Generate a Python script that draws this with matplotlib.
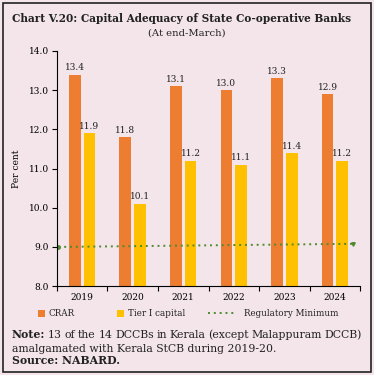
import numpy as np
import matplotlib.pyplot as plt
from matplotlib.patches import Rectangle

# datos
years = ["2019", "2020", "2021", "2022", "2023", "2024"]
crar = [13.4, 11.8, 13.1, 13.0, 13.3, 12.9]
tier1 = [11.9, 10.1, 11.2, 11.1, 11.4, 11.2]
reg_min = [9.0, 9.08]  # valores al inicio y al final del eje

c_crar = "#ED7D31"
c_tier = "#FFC000"
c_reg = "#4E8A2E"
bg = "#F3E5EA"
tc = "#222222"

plt.rcParams["font.family"] = ["DejaVu Serif"]

W, H = 374, 375
fig = plt.figure(figsize=(3.74, 3.75), dpi=100, facecolor=bg)
fig.patches.append(Rectangle((0.008, 0.008), 0.984, 0.984, transform=fig.transFigure,
                             fill=False, edgecolor=tc, lw=1.2))

ax = fig.add_axes([0.152, 0.237, 0.811, 0.627])
ax.set_facecolor(bg)

x = np.arange(len(years))
w = 0.235
off = 0.145
b1 = ax.bar(x - off, crar, w, color=c_crar, label="CRAR")
b2 = ax.bar(x + off, tier1, w, color=c_tier, label="Tier I capital")
for i in range(len(years)):
    ax.text(x[i] - off, crar[i] + 0.06, f"{crar[i]:.1f}", ha="center", va="bottom", fontsize=6.5, color=tc)
    ax.text(x[i] + off, tier1[i] + 0.06, f"{tier1[i]:.1f}", ha="center", va="bottom", fontsize=6.5, color=tc)

l1, = ax.plot([-0.47, 5.35], reg_min, linestyle=(0, (1, 2.0)), color=c_reg, lw=1.4,
              label="Regulatory Minimum")
ax.plot([-0.47], [reg_min[0]], "o", color=c_reg, ms=2.5)
ax.plot([5.35], [reg_min[1]], "v", color=c_reg, ms=2.5)

ax.set_xlim(-0.5, 5.5)
ax.set_ylim(8.0, 14.0)
ax.set_yticks(np.arange(8, 14.01, 1.0))
ax.set_yticklabels([f"{v:.1f}" for v in np.arange(8, 14.01, 1.0)], fontsize=6.5)
ax.set_xticks(x)
ax.set_xticklabels(years, fontsize=6.5)
ax.set_xticks(np.arange(-0.5, 5.6, 1.0), minor=True)
ax.tick_params(axis="x", which="major", length=0, pad=5)
ax.tick_params(axis="x", which="minor", length=3.5, width=0.8)
ax.tick_params(axis="y", length=3.5, width=0.8, pad=2)
ax.spines["top"].set_visible(False)
ax.spines["right"].set_visible(False)
ax.spines["left"].set_linewidth(0.8)
ax.spines["bottom"].set_linewidth(0.8)
ax.set_ylabel("Per cent", fontsize=6.5, labelpad=6)

# leyenda: tres piezas separadas
ly = 1 - 314 / H
items = [(b1, "CRAR", 38, 0.8, 0.8), (b2, "Tier I capital", 117, 0.8, 0.8),
         (l1, "Regulatory Minimum", 208, 3.2, 0.8)]
for h, lab, px, hl, hh in items:
    lg = fig.legend([h], [lab], loc="center left", bbox_to_anchor=(px / W, ly),
                    frameon=False, fontsize=6.3, handlelength=hl, handleheight=hh,
                    handletextpad=0.45 if hl < 1 else 0.9, borderpad=0, borderaxespad=0)
    for t in lg.get_texts():
        t.set_color(tc)

fig.text(0.032, 0.952, "Chart V.20: Capital Adequacy of State Co-operative Banks",
         fontsize=7.6, fontweight="bold", color=tc, va="center")
fig.text(0.5, 0.912, "(At end-March)", fontsize=7.2, color=tc, ha="center", va="center")

# nota justificada
fs = 7.8
x0, x1 = 12 / W, 362 / W
words = ["Note:", "13", "of", "the", "14", "DCCBs", "in", "Kerala", "(except",
         "Malappuram", "DCCB)"]
r = fig.canvas.get_renderer()
objs = []
for k, wd in enumerate(words):
    objs.append(fig.text(0, 1 - 335 / H, wd, fontsize=fs, color=tc, va="center",
                         fontweight="bold" if k == 0 else "normal"))
widths = [o.get_window_extent(r).width / W for o in objs]
gap = (x1 - x0 - sum(widths)) / (len(words) - 1)
pos = x0
for o, wi in zip(objs, widths):
    o.set_x(pos)
    pos += wi + gap

fig.text(x0, 1 - 349 / H, "amalgamated with Kerala StCB during 2019-20.",
         fontsize=fs, color=tc, va="center")
fig.text(x0, 1 - 361 / H, "Source: NABARD.", fontsize=fs, fontweight="bold", color=tc, va="center")

fig.savefig("out.png", dpi=100, facecolor=bg)
